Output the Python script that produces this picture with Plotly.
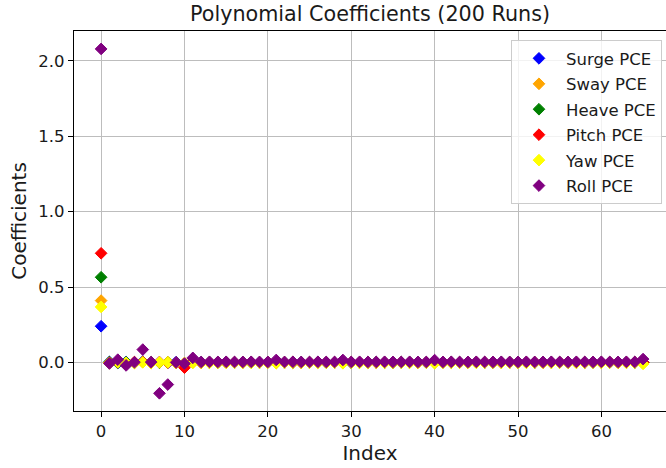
import plotly.graph_objects as go

index = list(range(66))

surge = [0.240, 0.003, -0.004, 0.002, 0.000, 0.005, -0.002, 0.001, -0.003, 0.002, -0.006,
         0.004, 0.001, -0.001, 0.002, 0.000, -0.002, 0.001, 0.000, 0.001, -0.001, 0.002,
         0.000, -0.001, 0.001, 0.000, 0.002, -0.001, 0.000, 0.001, -0.002, 0.000, 0.001,
         0.000, -0.001, 0.001, 0.000, 0.000, 0.001, -0.001, 0.000, 0.002, 0.000, -0.001,
         0.001, 0.000, 0.000, -0.001, 0.001, 0.000, 0.001, 0.000, -0.001, 0.000, 0.001,
         0.000, -0.001, 0.000, 0.001, 0.000, 0.000, -0.001, 0.001, 0.000, 0.000, 0.002]

sway = [0.410, -0.004, 0.003, -0.005, 0.001, 0.002, -0.003, 0.000, 0.002, -0.002, -0.004,
        0.003, -0.001, 0.001, -0.002, 0.000, 0.001, -0.001, 0.000, -0.002, 0.001, 0.000,
        -0.001, 0.000, -0.002, 0.001, 0.000, -0.001, 0.000, -0.002, 0.001, 0.000, -0.001,
        0.000, 0.001, -0.002, 0.000, 0.001, -0.001, 0.000, -0.002, 0.000, 0.001, -0.001,
        0.000, -0.001, 0.001, 0.000, -0.002, 0.000, 0.000, -0.001, 0.001, 0.000, -0.001,
        0.000, 0.000, -0.002, 0.000, 0.001, -0.001, 0.000, 0.000, -0.001, 0.001, -0.003]

heave = [0.565, 0.002, -0.003, 0.001, -0.002, 0.004, 0.001, -0.002, 0.000, -0.003, -0.012,
         0.002, 0.000, 0.001, -0.001, 0.000, 0.000, 0.001, -0.001, 0.000, 0.001, 0.000,
         0.001, 0.000, 0.000, -0.001, 0.001, 0.000, 0.000, 0.001, -0.001, 0.000, 0.000,
         0.001, 0.000, -0.001, 0.000, 0.001, 0.000, 0.000, -0.001, 0.000, 0.001, 0.000,
         0.000, 0.001, -0.001, 0.000, 0.000, 0.001, 0.000, 0.000, -0.001, 0.001, 0.000,
         0.000, 0.001, 0.000, -0.001, 0.000, 0.001, 0.000, 0.000, 0.001, -0.001, 0.000]

pitch = [0.724, -0.003, 0.002, -0.004, 0.002, 0.003, -0.001, 0.002, -0.002, -0.004, -0.035,
         0.001, -0.002, 0.000, 0.001, -0.001, 0.000, 0.000, 0.001, -0.001, 0.000, 0.001,
         0.000, 0.000, -0.001, 0.000, 0.001, 0.000, -0.001, 0.000, 0.000, 0.001, 0.000,
         -0.001, 0.000, 0.000, 0.001, 0.000, -0.001, 0.000, 0.001, 0.000, 0.000, -0.001,
         0.000, 0.001, 0.000, 0.000, -0.001, 0.000, 0.000, 0.001, 0.000, -0.001, 0.000,
         0.001, 0.000, 0.000, -0.001, 0.000, 0.000, 0.001, -0.001, 0.000, 0.000, 0.000]

yaw = [0.368, -0.004, 0.001, -0.003, -0.005, 0.000, -0.004, 0.000, 0.000, -0.004, -0.005,
       -0.004, -0.002, -0.003, -0.002, -0.003, -0.002, -0.002, -0.003, -0.002, -0.002, -0.006,
       -0.002, -0.003, -0.002, -0.002, -0.003, -0.002, -0.002, -0.006, -0.002, -0.003, -0.002,
       -0.002, -0.003, -0.002, -0.002, -0.003, -0.002, -0.002, -0.006, -0.002, -0.003, -0.002,
       -0.002, -0.003, -0.002, -0.002, -0.003, -0.002, -0.002, -0.003, -0.002, -0.002, -0.003,
       -0.002, -0.002, -0.003, -0.002, -0.002, -0.003, -0.002, -0.002, -0.003, -0.002, -0.010]

roll = [2.080, -0.007, 0.018, -0.020, 0.001, 0.085, 0.002, -0.205, -0.147, 0.000, -0.008,
        0.030, 0.003, 0.004, 0.003, 0.004, 0.003, 0.003, 0.004, 0.003, 0.003, 0.016,
        0.003, 0.004, 0.003, 0.003, 0.004, 0.003, 0.003, 0.016, 0.003, 0.004, 0.003,
        0.003, 0.004, 0.003, 0.003, 0.004, 0.003, 0.003, 0.015, 0.003, 0.004, 0.003,
        0.003, 0.004, 0.003, 0.003, 0.004, 0.003, 0.003, 0.004, 0.003, 0.003, 0.004,
        0.003, 0.003, 0.004, 0.003, 0.003, 0.004, 0.003, 0.003, 0.004, 0.003, 0.022]

series = [
    ("Surge PCE", surge, "blue"),
    ("Sway PCE", sway, "orange"),
    ("Heave PCE", heave, "green"),
    ("Pitch PCE", pitch, "red"),
    ("Yaw PCE", yaw, "yellow"),
    ("Roll PCE", roll, "purple"),
]

x_ticks = [0, 10, 20, 30, 40, 50, 60]
y_ticks = [0.0, 0.5, 1.0, 1.5, 2.0]
y_tick_labels = ["0.0", "0.5", "1.0", "1.5", "2.0"]

FONT = "DejaVu Sans"
TEXT = "#1a1a1a"

fig = go.Figure()
for name, vals, col in series:
    fig.add_trace(go.Scatter(
        x=index, y=vals, mode="markers", name=name, legendgroup=name,
        marker=dict(symbol="diamond", size=9, color=col, line=dict(color=col, width=1)),
    ))

fig.update_layout(
    width=666, height=468,
    margin=dict(l=74, r=0, t=31, b=57),
    paper_bgcolor="white", plot_bgcolor="white",
    font=dict(family=FONT, size=16.5, color=TEXT),
    title=dict(text="Polynomial Coefficients (200 Runs)", x=0.5, xref="paper",
               xanchor="center", y=1 - 14 / 468, yref="container", yanchor="middle",
               font=dict(family=FONT, size=20.7, color=TEXT)),
    xaxis=dict(range=[-3.25, 67.75], tickvals=x_ticks, showgrid=True, gridcolor="#bdbdbd",
               gridwidth=1.2, zeroline=False, showline=True, linecolor="black", linewidth=1.2,
               mirror=True, ticks="outside", ticklen=5, tickcolor="black", tickwidth=1.2,
               title=dict(text="Index", standoff=6), tickfont=dict(size=16.5)),
    yaxis=dict(range=[-0.3225, 2.199], tickvals=y_ticks, ticktext=y_tick_labels,
               showgrid=True, gridcolor="#bdbdbd", gridwidth=1.2, zeroline=False,
               showline=True, linecolor="black", linewidth=1.2, mirror=False,
               ticks="outside", ticklen=5, tickcolor="black", tickwidth=1.2,
               title=dict(text="Coefficients", standoff=6), tickfont=dict(size=16.5)),
    legend=dict(x=0.9932, y=0.976, xanchor="right", yanchor="top",
                bgcolor="rgba(255,255,255,0.8)", bordercolor="#cccccc", borderwidth=1,
                font=dict(size=16.5), tracegroupgap=1, itemwidth=44),
    showlegend=True,
)

fig.write_html("out.html")
